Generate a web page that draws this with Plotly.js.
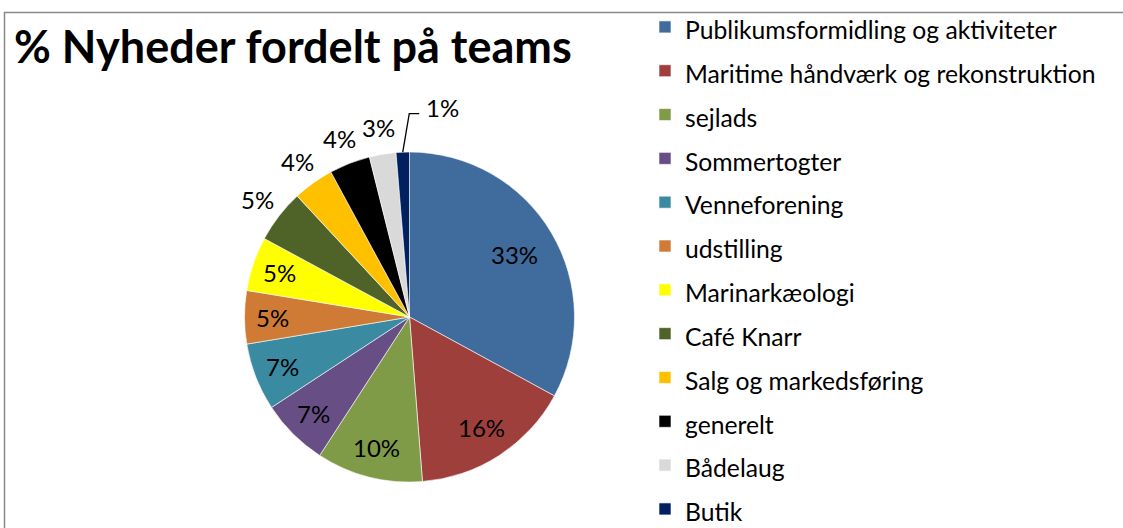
<!DOCTYPE html>
<html>
<head>
<meta charset="utf-8">
<script src="https://cdn.plot.ly/plotly-3.0.1.min.js"></script>
<style>
  html, body { margin: 0; padding: 0; background: #ffffff; }
  #chart { width: 1123px; height: 528px; }
</style>
</head>
<body>
<div id="chart"></div>
<script>
// ---- data ----
const chartTitle = "% Nyheder fordelt på teams";
const categories = [
  "Publikumsformidling og aktiviteter",
  "Maritime håndværk og rekonstruktion",
  "sejlads",
  "Sommertogter",
  "Venneforening",
  "udstilling",
  "Marinarkæologi",
  "Café Knarr",
  "Salg og markedsføring",
  "generelt",
  "Bådelaug",
  "Butik"
];
const shares = [32.9, 15.8, 10.4, 6.6, 6.6, 5.2, 5.3, 5.2, 4.0, 4.0, 2.6, 1.3];
const sliceColors = [
  "#3F6B9D", "#9E3F3C", "#7F9B48", "#674F85", "#3A8AA2", "#CF7B36",
  "#FFFF00", "#4F6228", "#FFC000", "#000000", "#D9D9D9", "#002060"
];
const labelPlacement = [
  "inside", "inside", "inside", "inside", "inside", "inside",
  "inside", "outside", "outside", "outside", "outside", "leader"
];

// ---- layout constants ----
const W = 1123, H = 528;
const FONT = "Lato, 'Open Sans', sans-serif";
const cx = 409.5, cy = 317, R = 165;
const OUTSIDE_GAP = 27;
const px = x => x / W;
const py = y => 1 - y / H;

const legendLabels = categories.map(c => "<span style='font-size:24.7px'>" + c + "</span>");

const trace = {
  type: "pie",
  labels: legendLabels,
  values: shares,
  sort: false,
  direction: "clockwise",
  rotation: 0,
  marker: { colors: sliceColors, line: { color: "#ffffff", width: 0.6 } },
  textinfo: "none",
  hoverinfo: "percent",
  domain: {
    x: [(cx - R) / W, (cx + R) / W],
    y: [(H - cy - R) / H, (H - cy + R) / H]
  },
  showlegend: true
};

// percentage labels placed from the slice angles computed from the data
const total = shares.reduce((a, b) => a + b, 0);
const maxShare = Math.max(...shares);
const annotations = [];
const shapes = [{
  type: "rect", xref: "paper", yref: "paper", layer: "below",
  x0: 4.5 / W, x1: 1.02, y0: -0.05, y1: 1 - 12.5 / H,
  line: { color: "#888888", width: 1.5 }, fillcolor: "rgba(0,0,0,0)"
}];
let cum = 0;
shares.forEach((v, i) => {
  const mid = (cum + v / 2) / total * 2 * Math.PI;
  cum += v;
  const txt = Math.round(v / total * 100) + "%";
  const s = Math.sin(mid), c = Math.cos(mid);
  const font = { family: FONT, size: 24, color: "#000000" };
  if (labelPlacement[i] === "leader") {
    const ex = cx + R * s, ey = cy - R * c;
    const kx = ex + 6.5, ky = ey - 38.5;
    const tx = kx + 10;
    shapes.push({
      type: "path", xref: "paper", yref: "paper", layer: "above",
      path: "M" + px(ex) + "," + py(ey) + " L" + px(kx) + "," + py(ky) + " L" + px(tx) + "," + py(ky),
      line: { color: "#000000", width: 1.3 }
    });
    annotations.push({
      text: txt, xref: "paper", yref: "paper", showarrow: false,
      x: px(tx + 5), y: py(ky - 6), xanchor: "left", yanchor: "middle", font
    });
  } else {
    const frac = 0.74 + 0.11 * (1 - v / maxShare);
    const r = labelPlacement[i] === "inside" ? R * frac : R + OUTSIDE_GAP;
    annotations.push({
      text: txt, xref: "paper", yref: "paper", showarrow: false,
      x: px(cx + r * s), y: py(cy - r * c), xanchor: "center", yanchor: "middle", font
    });
  }
});

const layout = {
  width: W,
  height: H,
  margin: { l: 0, r: 0, t: 0, b: 0 },
  paper_bgcolor: "#ffffff",
  plot_bgcolor: "#ffffff",
  font: { family: FONT, color: "#000000" },
  title: {
    text: "<b>" + chartTitle + "</b>",
    font: { family: FONT, size: 45, color: "#000000" },
    x: 14 / W, xanchor: "left", xref: "paper",
    y: 1 - 47 / H, yanchor: "middle", yref: "container"
  },
  legend: {
    x: 645 / W, xanchor: "left",
    y: 1 - 13 / H, yanchor: "top",
    font: { family: FONT, size: 31.4, color: "#000000" },
    bgcolor: "rgba(0,0,0,0)",
    borderwidth: 0,
    traceorder: "normal"
  },
  annotations: annotations,
  shapes: shapes
};

Plotly.newPlot("chart", [trace], layout, { displayModeBar: false, staticPlot: true });
</script>
</body>
</html>
